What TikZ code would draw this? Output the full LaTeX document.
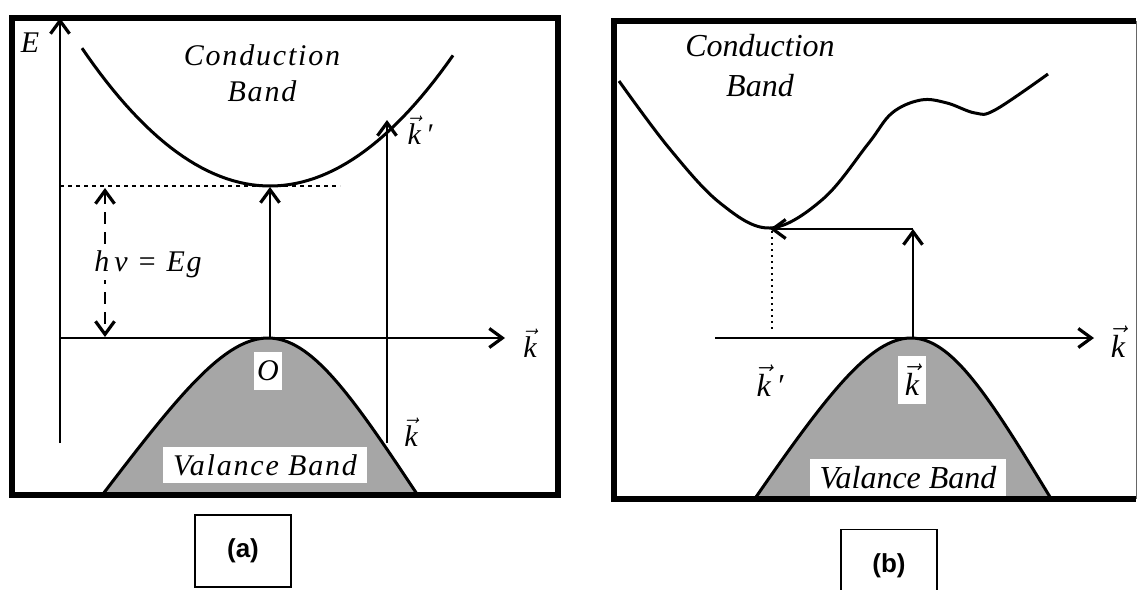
\documentclass[tikz,border=0pt]{standalone}
\usepackage{fontspec}
\usepackage{tikz}
\usetikzlibrary{arrows.meta}
\setmainfont{Liberation Serif}
\newfontfamily\spacedserif[LetterSpace=6]{Liberation Serif}
\newfontfamily\capsans{Liberation Sans}
\newcommand{\kvec}{$\vec{\textit{k}}$}

\begin{document}
\begin{tikzpicture}[x=0.5pt,y=-0.5pt,every node/.style={inner sep=1pt}]
    \tikzstyle{frame}=[line width=2.8pt];
    \tikzstyle{band}=[line width=1.5pt];
    \tikzstyle{axis}=[line width=1.1pt,-{Straight Barb[length=6.5pt,width=9.5pt,line width=1.6pt]}];
    \tikzstyle{txa}=[font=\spacedserif\itshape\fontsize{15pt}{18pt}\selectfont];
    \tikzstyle{txb}=[font=\itshape\fontsize{16pt}{19pt}\selectfont];
    \tikzstyle{whitebg}=[fill=white];
    \tikzstyle{tag}=[draw,line width=0.6pt,font=\capsans\bfseries\fontsize{13pt}{15pt}\selectfont];
    \useasboundingbox (0,0) rectangle (1138,589);

    % ---- panel (a): direct gap
    \coordinate (aE0) at (60,443);
    \coordinate (aE1) at (60,18);
    \coordinate (ak0) at (60,338);
    \coordinate (ak1) at (505,338);
    \coordinate (acb) at (270,187);
    \coordinate (avb) at (270,338);
    \coordinate (agT) at (105,188);
    \coordinate (agB) at (105,337);
    \coordinate (aiB) at (387,443);
    \coordinate (aiT) at (387,120);

    \fill[black!35] (103,494) .. controls (180,393) and (225,338) .. (268,338)
                    .. controls (311,338) and (350,393) .. (417,494) -- cycle;
    \draw[band] (103,494) .. controls (180,393) and (225,338) .. (268,338)
                .. controls (311,338) and (350,393) .. (417,494);
    \draw[band] plot[domain=82:453,samples=60] (\x,{186-39*((\x-270)/100)^2});

    \draw[axis] (aE0) -- (aE1);
    \draw[axis] (ak0) -- (ak1);
    \draw[line width=1pt,dash pattern=on 2pt off 2pt] (60,186) -- (340,186);
    \draw[axis] (avb) -- (acb);
    \draw[axis] (aiB) -- (aiT);
    \draw[line width=1.4pt,dash pattern=on 6pt off 4pt,
          {Straight Barb[length=6.5pt,width=9.5pt,line width=1.6pt]}-{Straight Barb[length=6.5pt,width=9.5pt,line width=1.6pt]}]
          (agT) -- (agB);

    \node[txa] (aE) at (30,43) {E};
    \node[txa] (acb1) at (262,55) {Conduction};
    \node[txa] (acb2) at (262,91) {Band};
    \node[txa,whitebg] (ahv) at (148,264) {h\,ν = Eg};
    \node[txa,whitebg,minimum width=14pt,minimum height=19pt] (aO) at (268,371) {O};
    \node[txa,whitebg,minimum width=102pt,minimum height=18pt] (avbl) at (265,465) {Valance Band};
    \node[txa] (akp) at (420,130) {\kvec\,′};
    \node[txa] (akv) at (411,432) {\kvec};
    \node[txa] (akx) at (530,343) {\kvec};

    \draw[frame] (12,18) rectangle (558,495);
    \node[tag,minimum width=48pt,minimum height=36pt] (taga) at (243,551) {(a)};

    % ---- panel (b): indirect gap
    \coordinate (bk0) at (715,338);
    \coordinate (bk1) at (1094,338);
    \coordinate (bvb) at (913,338);
    \coordinate (bup) at (913,229);
    \coordinate (bmin) at (770,229);
    \coordinate (bdt) at (772,231);
    \coordinate (bdb) at (772,332);

    \fill[black!35] (756,497) .. controls (828,393) and (871,338) .. (911,338)
                    .. controls (951,338) and (987,393) .. (1050,497) -- cycle;
    \draw[band] (756,497) .. controls (828,393) and (871,338) .. (911,338)
                .. controls (951,338) and (987,393) .. (1050,497);
    \draw[band] plot[smooth,tension=0.6] coordinates {(619,81) (669,148) (720,203) (770,228)
                (823,199) (868,144) (892,113) (921,100) (947,103) (975,113) (995,110) (1048,74)};

    \draw[axis] (bk0) -- (bk1);
    \draw[axis] (bvb) -- (bup);
    \draw[axis] (bup) -- (bmin);
    \draw[line width=1pt,dotted] (bdt) -- (bdb);

    \node[txb] (bcb1) at (760,46) {Conduction};
    \node[txb] (bcb2) at (760,86) {Band};
    \node[txb] (bkp) at (770,381) {\kvec\,′};
    \node[txb,whitebg,minimum width=14pt,minimum height=24pt] (bkv) at (912,380) {\kvec};
    \node[txb,whitebg,minimum width=98pt,minimum height=19pt] (bvbl) at (908,478) {Valance Band};
    \node[txb] (bkx) at (1118,342) {\kvec};

    \draw[frame] (1136,21) -- (614,21) -- (614,499) -- (1136,499);
    \draw[line width=0.5pt,black!60] (1136,21) -- (1136,499);
    \node[tag,minimum width=48pt,minimum height=36pt,anchor=north] (tagb) at (889,529) {(b)};
\end{tikzpicture}
\end{document}
